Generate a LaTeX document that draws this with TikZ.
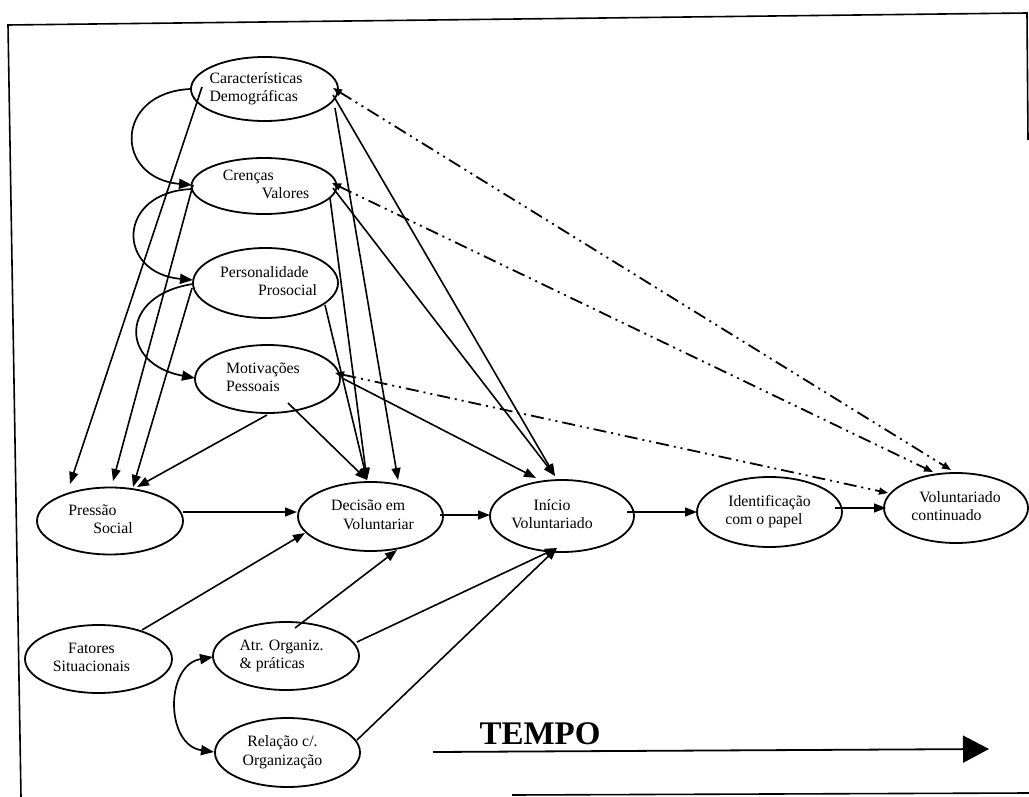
\documentclass[tikz,border=0pt]{standalone}
\usepackage{fontspec}
\setmainfont{Liberation Serif}
\usetikzlibrary{arrows.meta,calc,shapes.geometric}
\newcommand{\ntext}[3]{\makebox[0pt]{\hspace{#1}\begin{tabular}{@{}#2@{}}#3\end{tabular}}}
\begin{document}
\begin{tikzpicture}[x=1pt,y=1pt,
  box/.style={draw, line width=1.8pt, ellipse, inner sep=0pt, minimum width=145pt, minimum height=68pt,
    font=\fontsize{15.8}{18.5}\selectfont},
  arr/.style={line width=1.6pt, -{Triangle[length=12pt,width=9pt]}},
  loopy/.style={line width=1.7pt, -{Triangle[length=13pt,width=10pt]}},
  loopyy/.style={line width=1.7pt, {Triangle[length=13pt,width=10pt]}-{Triangle[length=13pt,width=10pt]}},
  dd/.style={line width=1.8pt, dash pattern=on 13pt off 5pt on 2pt off 5pt on 2pt off 5pt,
    {Triangle[length=9pt,width=7pt]}-{Triangle[length=9pt,width=7pt]}},
  frame/.style={line width=1.6pt},
]
\useasboundingbox (0,0) rectangle (1029,-797);

% frame
\draw[frame] (21,-797) -- (8,-25) -- (1027,-13) -- (1028,-140);
\draw[frame] (512,-795) -- (1029,-793);

% nodes
\node[box, minimum width=147pt, minimum height=64pt] (cd) at (264.5,-89)
  {\ntext{-17pt}{l}{Características\\Demográficas}};
\node[box, minimum height=56pt] (cv) at (264,-186)
  {\ntext{4pt}{l}{Crenças\\\hspace*{39pt}Valores}};
\node[box, minimum height=70pt] (pp) at (265.5,-283)
  {\ntext{6pt}{l}{Personalidade\\\hspace*{38pt}Prosocial}};
\node[box] (mp) at (267.5,-379)
  {\ntext{-9pt}{l}{Motivações\\Pessoais}};
\node[box, minimum width=146pt, minimum height=67pt] (ps) at (110,-521)
  {\ntext{-19pt}{l}{Pressão\\\hspace*{25pt}Social}};
\node[box, minimum height=69pt] (dv) at (370.5,-516.5)
  {\ntext{4pt}{l}{Decisão em\\\hspace*{12pt}Voluntariar}};
\node[box, minimum width=144pt, minimum height=72pt] (iv) at (562,-516)
  {\ntext{-20pt}{c}{Início\\Voluntariado}};
\node[box, minimum height=70pt] (ip) at (769.5,-512)
  {\ntext{-3pt}{l}{\hspace*{3pt}Identificação\\com o papel}};
\node[box, minimum width=144pt, minimum height=70pt] (vc) at (956,-508)
  {\ntext{0pt}{l}{\hspace*{8pt}Voluntariado\\continuado}};
\node[box, minimum width=147pt] (fs) at (98.5,-659)
  {\ntext{-14pt}{c}{Fatores\\Situacionais}};
\node[box, minimum width=146pt] (ao) at (286,-656)
  {\ntext{-9pt}{l}{Atr. Organiz.\\\& práticas}};
\node[box, minimum height=69pt] (ro) at (287.5,-752.5)
  {\ntext{-10pt}{c}{Relação c/.\\Organização}};

\node[font=\fontsize{33}{33}\selectfont\bfseries, inner sep=0pt] (tempo) at (540,-734) {TEMPO};
\coordinate (t0) at (433,-752);
\coordinate (t1) at (989,-749);
\draw[line width=1.8pt, -{Triangle[length=26pt,width=27pt]}] (t0) -- (t1);

% loops
\draw[loopy] ([shift={(-74.5,0)}]cd.center) .. controls +(-76,-4) and +(-78,7) .. ([shift={(-72,1)}]cv.center);
\draw[loopy] ([shift={(-72,-3)}]cv.center) .. controls +(-76,-3) and +(-77,7) .. ([shift={(-72.5,3)}]pp.center);
\draw[loopy] ([shift={(-72.5,-1)}]pp.center) .. controls +(-74,-11) and +(-76,14) .. ([shift={(-72.5,1)}]mp.center);
\draw[loopyy] ([shift={(-73,-1)}]ao.center) .. controls +(-48,-8) and +(-49,7) .. ([shift={(-73.5,0.5)}]ro.center);

% solid connectors
\draw[arr] ([shift={(-62.5,2)}]cd.center) -- ([shift={(-40,37)}]ps.center);
\draw[arr] ([shift={(-71,1)}]cv.center) -- ([shift={(3,40)}]ps.center);
\draw[arr] ([shift={(-73.5,-5)}]pp.center) -- ([shift={(23,34)}]ps.center);
\draw[arr] ([shift={(-0.5,-36)}]mp.center) -- ([shift={(27,34)}]ps.center);

\draw[arr] ([shift={(59.5,-22)}]pp.center) -- ([shift={(-3.5,36.5)}]dv.center);
\draw[arr] ([shift={(20.5,-24)}]mp.center) -- ([shift={(-3.5,36.5)}]dv.center);
\draw[arr] ([shift={(66,-12)}]cv.center) -- ([shift={(-3.5,36.5)}]dv.center);
\draw[arr] ([shift={(70.5,-19)}]cd.center) -- ([shift={(27.5,36.5)}]dv.center);

\draw[arr] ([shift={(68.5,-6)}]cd.center) -- ([shift={(-7,40)}]iv.center);
\draw[arr] ([shift={(69,-2)}]cv.center) -- ([shift={(-7,40)}]iv.center);
\draw[arr] ([shift={(74.5,1)}]mp.center) -- ([shift={(-26,38)}]iv.center);

\draw[arr] ([shift={(73,9)}]ps.center) -- ([shift={(-73.5,4.5)}]dv.center);
\draw[arr] ([shift={(69.5,1.5)}]dv.center) -- ([shift={(-72,1)}]iv.center);
\draw[arr] ([shift={(65,4)}]iv.center) -- ([shift={(-72.5,0)}]ip.center);
\draw[arr] ([shift={(65.5,4)}]ip.center) -- ([shift={(-70,0)}]vc.center);

\draw[arr] ([shift={(43.5,29)}]fs.center) -- ([shift={(-65.5,-16.5)}]dv.center);
\draw[arr] ([shift={(9,28)}]ao.center) -- ([shift={(26.5,-33.5)}]dv.center);
\draw[arr] ([shift={(71,14)}]ao.center) -- ([shift={(-5,-32)}]iv.center);
\draw[arr] ([shift={(69.5,12.5)}]ro.center) -- ([shift={(-5,-32)}]iv.center);

% dash-dot connectors
\draw[dd] ([shift={(68.5,1)}]cd.center) -- ([shift={(-5,38)}]vc.center);
\draw[dd] ([shift={(68,3)}]cv.center) -- ([shift={(-23,36)}]vc.center);
\draw[dd] ([shift={(67.5,6)}]mp.center) -- ([shift={(-68,15)}]vc.center);
\end{tikzpicture}
\end{document}
